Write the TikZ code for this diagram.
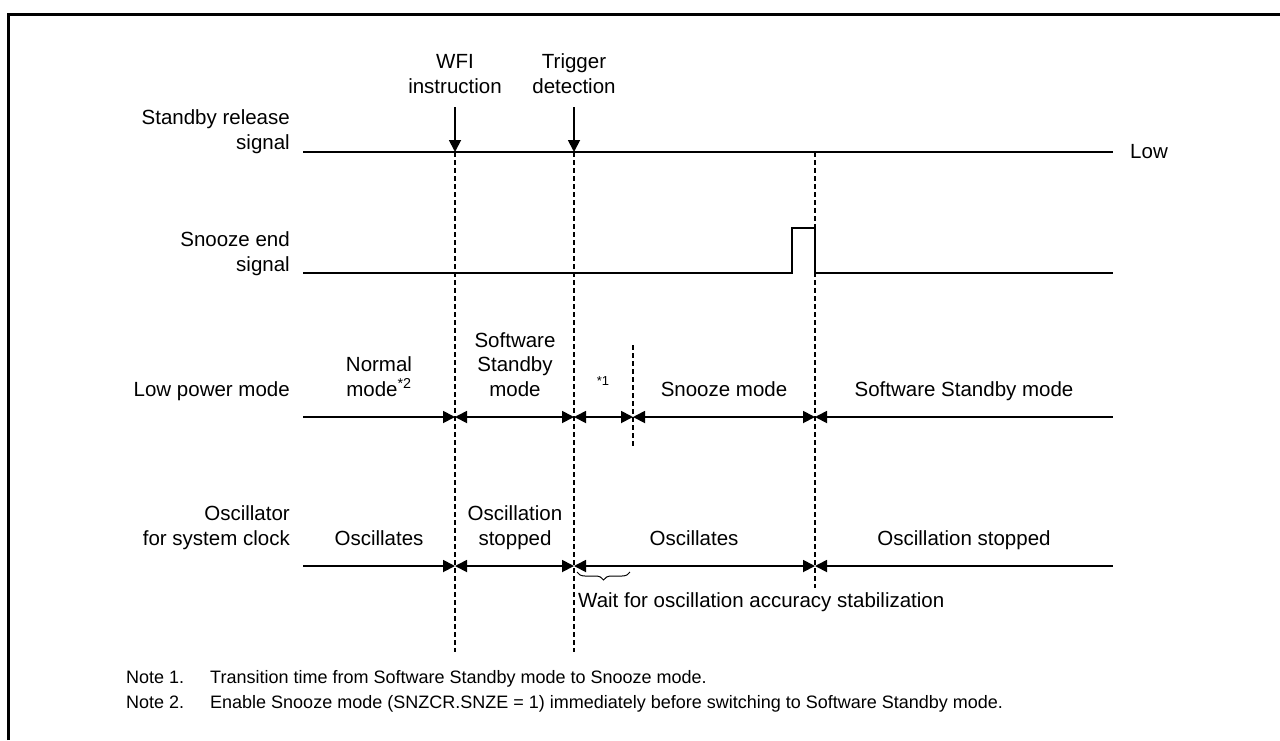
\documentclass[tikz,border=0pt]{standalone}
\usepackage{fontspec}
\setmainfont{Liberation Sans}
\usetikzlibrary{arrows.meta,decorations.pathreplacing}
\begin{document}
\begin{tikzpicture}[x=1pt,y=-1pt,
  sig/.style={line width=1.8pt},
  guide/.style={line width=1.2pt,dash pattern=on 5pt off 3pt},
  frameline/.style={line width=3pt},
  lbl/.style={font=\fontsize{20.5}{24.5}\selectfont,inner sep=0pt},
  notefont/.style={font=\fontsize{18}{25}\selectfont,inner sep=0pt},
  rt/.style={-{Triangle[length=12pt,width=12pt]}},
  lt/.style={{Triangle[length=12pt,width=12pt]}-},
  both/.style={{Triangle[length=12pt,width=12pt]}-{Triangle[length=12pt,width=12pt]}},
  vtip/.style={-{Triangle[length=12pt,width=12pt]}}
]
\useasboundingbox (0,0) rectangle (1280,740);
% frame
\coordinate (fA) at (8,740); \coordinate (fB) at (8,14); \coordinate (fC) at (1280,14);
\draw[frameline] (fA) -- (fB) -- (fC);

% standby release signal
\coordinate (s0) at (303,152); \coordinate (sW) at (455,152);
\coordinate (sT) at (574,152); \coordinate (sE) at (815,152);
\coordinate (s1) at (1113,152);
\draw[sig] (s0) -- (s1);
\coordinate (aW) at (455,107); \coordinate (aT) at (574,107);
\draw[sig,vtip] (aW) -- (sW);
\draw[sig,vtip] (aT) -- (sT);

% guide lines
\coordinate (dW) at (455,652); \coordinate (dT) at (574,652);
\coordinate (dE) at (815,588);
\coordinate (dS0) at (633,345); \coordinate (dS1) at (633,447);
\draw[guide] (sW) -- (dW);
\draw[guide] (sT) -- (dT);
\draw[guide] (sE) -- (dE);
\draw[guide] (dS0) -- (dS1);

% snooze end signal
\coordinate (n0) at (303,273); \coordinate (n1) at (792,273);
\coordinate (n2) at (792,228); \coordinate (n3) at (815,228);
\coordinate (n4) at (815,273); \coordinate (n5) at (1113,273);
\draw[sig] (n0) -- (n1) -- (n2) -- (n3) -- (n4) -- (n5);

% low power mode
\coordinate (l0) at (303,417); \coordinate (lW) at (455,417);
\coordinate (lT) at (574,417); \coordinate (lS) at (633,417);
\coordinate (lE) at (815,417); \coordinate (l1) at (1113,417);
\draw[sig,rt] (l0) -- (lW);
\draw[sig,both] (lW) -- (lT);
\draw[sig,both] (lT) -- (lS);
\draw[sig,both] (lS) -- (lE);
\draw[sig,lt] (lE) -- (l1);

% oscillator
\coordinate (o0) at (303,566); \coordinate (oW) at (455,566);
\coordinate (oT) at (574,566); \coordinate (oE) at (815,566);
\coordinate (o1) at (1113,566);
\draw[sig,rt] (o0) -- (oW);
\draw[sig,both] (oW) -- (oT);
\draw[sig,both] (oT) -- (oE);
\draw[sig,lt] (oE) -- (o1);

% brace
\coordinate (b0) at (577,572); \coordinate (b1) at (630,572);
\draw[line width=1pt,decorate,decoration={brace,mirror,amplitude=8pt}] (b0) -- (b1);

% labels
\node[lbl,align=center,anchor=base] (wfi) at (455,93) {WFI\\instruction};
\node[lbl,align=center,anchor=base] (trg) at (574,93) {Trigger\\detection};
\node[lbl,align=right,anchor=base east] (lsr) at (290,149) {Standby release\\signal};
\node[lbl,anchor=west] (low) at (1130,152) {Low};
\node[lbl,align=right,anchor=base east] (lse) at (290,271) {Snooze end\\signal};
\node[lbl,align=right,anchor=base east] (llp) at (290,396) {Low power mode};
\node[lbl,align=right,anchor=base east] (los) at (290,545) {Oscillator\\for system clock};

\node[lbl,align=center,anchor=base] (tnm) at (379,396) {Normal\\mode\textsuperscript{*2}};
\node[lbl,align=center,anchor=base] (tss) at (515,396) {Software\\Standby\\mode};
\node[font=\fontsize{13}{15}\selectfont,inner sep=0pt] (tn1) at (603,381) {*1};
\node[lbl,anchor=base] (tsn) at (724,396) {Snooze mode};
\node[lbl,anchor=base] (tss2) at (964,396) {Software Standby mode};

\node[lbl,align=center,anchor=base] (toa) at (379,545) {Oscillates};
\node[lbl,align=center,anchor=base] (tos) at (515,545) {Oscillation\\stopped};
\node[lbl,align=center,anchor=base] (tob) at (694,545) {Oscillates};
\node[lbl,align=center,anchor=base] (tos2) at (964,545) {Oscillation stopped};

\node[lbl,anchor=base west] (wait) at (578,607) {Wait for oscillation accuracy stabilization};

% notes
\node[notefont,anchor=base west] (n1a) at (126,683) {Note 1.};
\node[notefont,anchor=base west] (n1b) at (210,683) {Transition time from Software Standby mode to Snooze mode.};
\node[notefont,anchor=base west] (n2a) at (126,708) {Note 2.};
\node[notefont,anchor=base west] (n2b) at (210,708) {Enable Snooze mode (SNZCR.SNZE = 1) immediately before switching to Software Standby mode.};
\end{tikzpicture}
\end{document}
